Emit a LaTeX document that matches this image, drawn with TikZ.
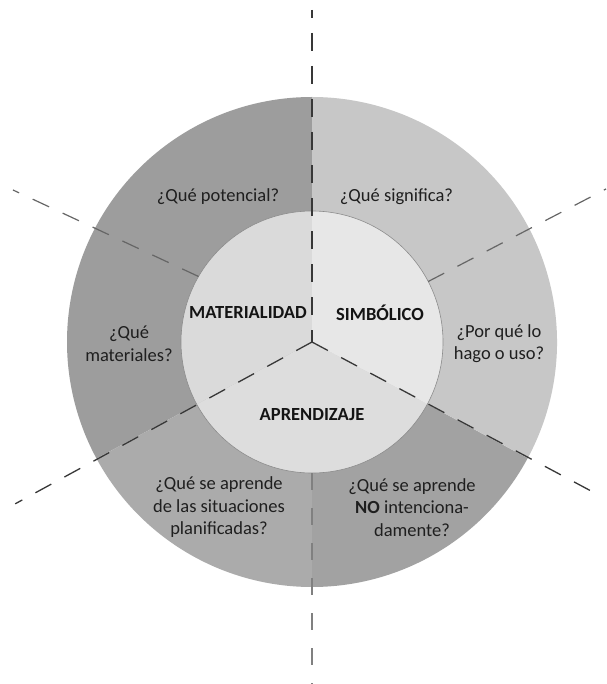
\documentclass[tikz,border=0pt]{standalone}
\usepackage{fontspec}
\setmainfont{Carlito}
\begin{document}
\begin{tikzpicture}[x=1pt,y=1pt,
  txt/.style={align=center, text=black!88, inner sep=0pt, font=\fontsize{18.5}{22.5}\selectfont},
  cat/.style={align=center, text=black!92, inner sep=0pt, font=\fontsize{18.5}{22.5}\selectfont\bfseries},
  darkdash/.style={draw=black!78, line width=1.3pt, dash pattern=on 18pt off 15pt},
  middash/.style={draw=black!60, line width=1.2pt, dash pattern=on 18pt off 15pt},
  lightdash/.style={draw=black!50, line width=1.1pt, dash pattern=on 17pt off 18pt}]
\definecolor{outML}{HTML}{9D9D9D}
\definecolor{outSI}{HTML}{C7C7C7}
\definecolor{outBL}{HTML}{ABABAB}
\definecolor{outBR}{HTML}{A2A2A2}
\definecolor{inML}{HTML}{DADADA}
\definecolor{inSI}{HTML}{E7E7E7}
\definecolor{inAP}{HTML}{DDDDDD}
\useasboundingbox (0,0) rectangle (606,-684);
\fill[white] (0,0) rectangle (606,-684);
\begin{scope}[shift={(312,-342)}]
  \coordinate (O) at (0,0);
  % outer ring sectors
  \fill[outML] (O) -- (90:245pt) arc[start angle=90, end angle=208.4, radius=245pt] -- cycle;
  \fill[outBL] (O) -- (208.4:245pt) arc[start angle=208.4, end angle=270, radius=245pt] -- cycle;
  \fill[outBR] (O) -- (270:245pt) arc[start angle=270, end angle=331.7, radius=245pt] -- cycle;
  \fill[outSI] (O) -- (-28.3:245pt) arc[start angle=-28.3, end angle=90, radius=245pt] -- cycle;
  % inner sectors
  \fill[inML] (O) -- (90:131pt) arc[start angle=90, end angle=208.4, radius=131pt] -- cycle;
  \fill[inAP] (O) -- (208.4:131pt) arc[start angle=208.4, end angle=331.7, radius=131pt] -- cycle;
  \fill[inSI] (O) -- (-28.3:131pt) arc[start angle=-28.3, end angle=90, radius=131pt] -- cycle;
  \draw[black!45, line width=0.6pt] (O) circle[radius=131pt];
  % coordinates for dashed dividers
  \coordinate (vtop) at (0,332);
  \coordinate (vbotin) at (0,-131);
  \coordinate (vbot) at (0,-342);
  \coordinate (llend) at (208.6:338pt);
  \coordinate (lrend) at (-28.1:326pt);
  \coordinate (ulin) at (150:131pt);
  \coordinate (ulend) at (-299,152);
  \coordinate (urin) at (27.5:131pt);
  \coordinate (urend) at (294,153);
\end{scope}
% dashed dividers
\draw[darkdash, dash phase=10pt] (vtop) -- (O);
\draw[darkdash] (O) -- (llend);
\draw[darkdash] (O) -- (lrend);
\draw[middash] (ulin) -- (ulend);
\draw[middash] (urin) -- (urend);
\draw[lightdash] (vbotin) -- (vbot);
% texts
\node[txt] (pot) at (218,-197) {¿Qué potencial?};
\node[txt] (sig) at (396.5,-197) {¿Qué significa?};
\node[txt] (mat) at (129,-343.5) {¿Qué\\materiales?};
\node[txt] (por) at (499,-343.5) {¿Por qué lo\\hago o uso?};
\node[cat] (materialidad) at (248,-313) {MATERIALIDAD};
\node[cat] (simbolico) at (380,-313) {SIMBÓLICO};
\node[cat] (aprendizaje) at (312,-415) {APRENDIZAJE};
\node[txt] (plan) at (219,-507.5) {¿Qué se aprende\\de las situaciones\\planificadas?};
\node[txt] (nointen) at (412,-507.5) {¿Qué se aprende\\\textbf{NO} intenciona-\\damente?};
\end{tikzpicture}
\end{document}
